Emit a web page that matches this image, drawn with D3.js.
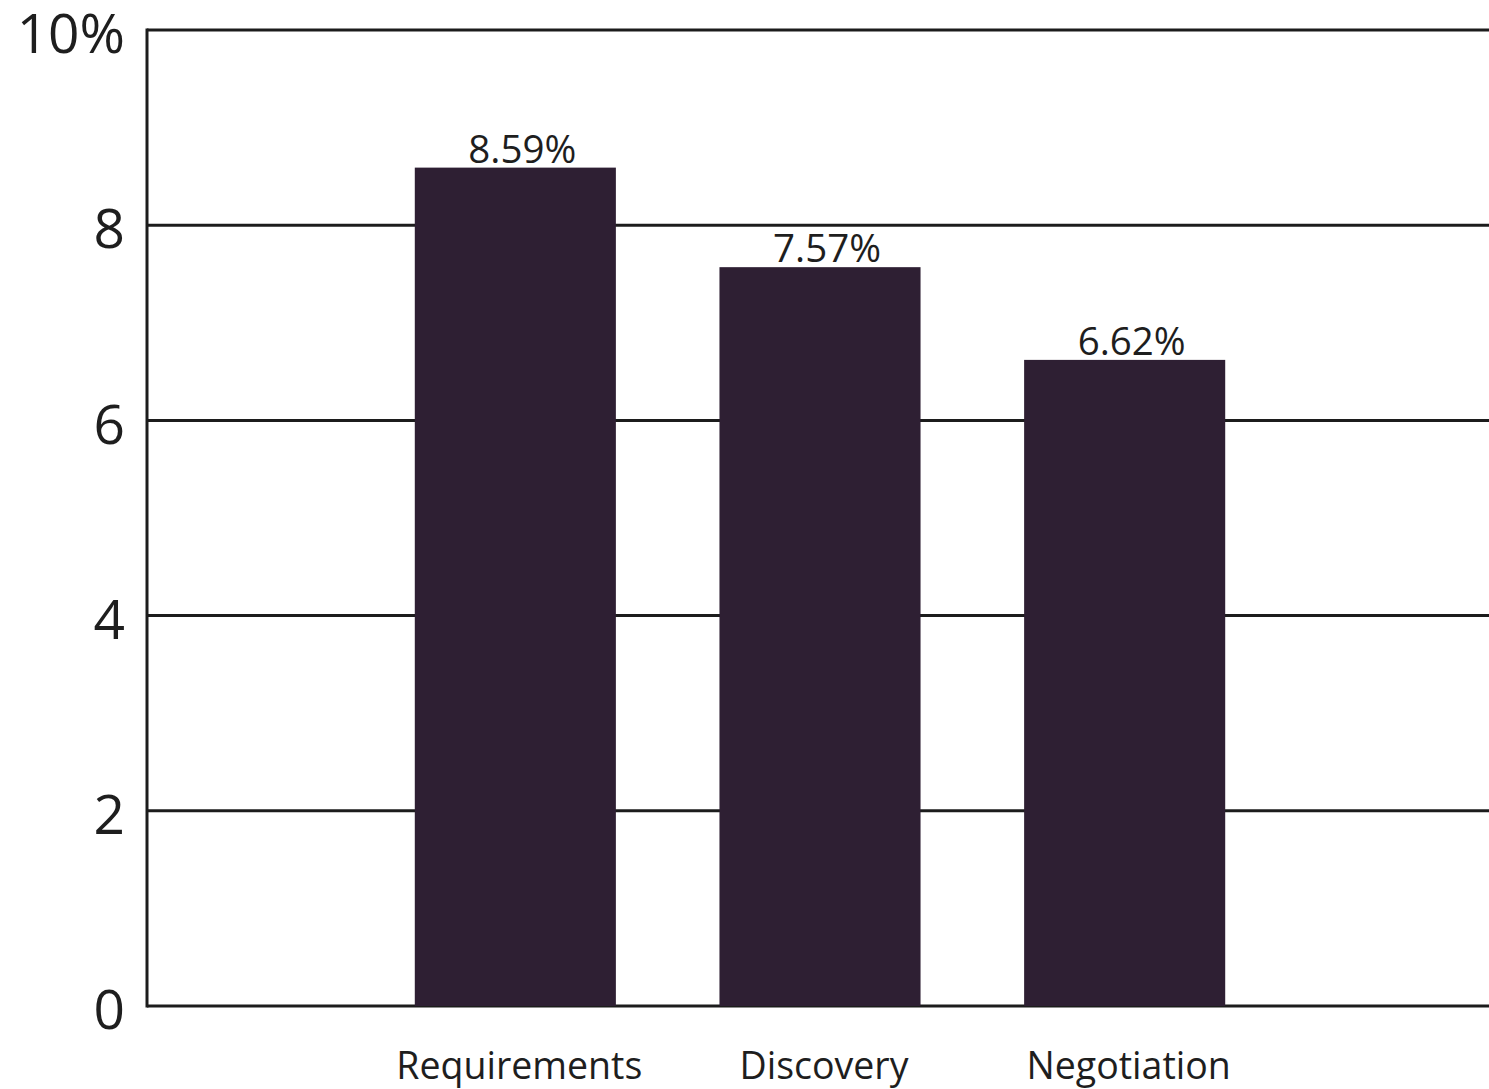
<!DOCTYPE html>
<html>
<head>
<meta charset="utf-8">
<script src="https://cdn.jsdelivr.net/npm/d3@7"></script>
<style>
  html, body { margin: 0; padding: 0; background: #fff; }
  svg { display: block; }
  text { font-family: "Open Sans", "Noto Sans", sans-serif; fill: #1e1e1e; }
</style>
</head>
<body>
<svg id="chart" width="1489" height="1089"></svg>
<script>
const categories = ["Requirements", "Discovery", "Negotiation"];
const values = [8.59, 7.57, 6.62];
const valueLabels = ["8.59%", "7.57%", "6.62%"];
const yTicks = [0, 2, 4, 6, 8, 10];
const yTickLabels = ["0", "2", "4", "6", "8", "10%"];

const W = 1489, H = 1089;
const margin = { left: 147, top: 30, right: 0, bottom: 83 };
const svg = d3.select("#chart");

const y = d3.scaleLinear().domain([0, 10]).range([H - margin.bottom, margin.top]);
const x = d3.scaleBand().domain(categories).range([363, 1277]).paddingInner(0.34).paddingOuter(0.17);

// gridlines
svg.append("g").selectAll("line").data(yTicks).join("line")
  .attr("x1", margin.left).attr("x2", W)
  .attr("y1", d => y(d)).attr("y2", d => y(d))
  .attr("stroke", "#1c1c1c").attr("stroke-width", 3);

// left axis line
svg.append("line")
  .attr("x1", margin.left).attr("x2", margin.left)
  .attr("y1", y(10) - 1.5).attr("y2", y(0) + 1.5)
  .attr("stroke", "#1c1c1c").attr("stroke-width", 3);

// y tick labels
svg.append("g").selectAll("text").data(yTicks).join("text")
  .attr("x", margin.left - 22).attr("y", d => y(d))
  .attr("dy", "0.42em")
  .attr("text-anchor", "end")
  .attr("font-size", 55)
  .text((d, i) => yTickLabels[i]);

// bars
svg.append("g").selectAll("rect").data(values).join("rect")
  .attr("x", (d, i) => x(categories[i]))
  .attr("width", x.bandwidth())
  .attr("y", d => y(d))
  .attr("height", d => y(0) - y(d))
  .attr("fill", "#2e1f33");

// value labels
svg.append("g").selectAll("text").data(values).join("text")
  .attr("x", (d, i) => x(categories[i]) + x.bandwidth() / 2 + 7)
  .attr("y", d => y(d) - 5)
  .attr("text-anchor", "middle")
  .attr("font-size", 38.5)
  .text((d, i) => valueLabels[i]);

// category labels
svg.append("g").selectAll("text").data(categories).join("text")
  .attr("x", d => x(d) + x.bandwidth() / 2 + 4)
  .attr("y", 1079)
  .attr("text-anchor", "middle")
  .attr("font-size", 37.5)
  .text(d => d);
</script>
</body>
</html>
